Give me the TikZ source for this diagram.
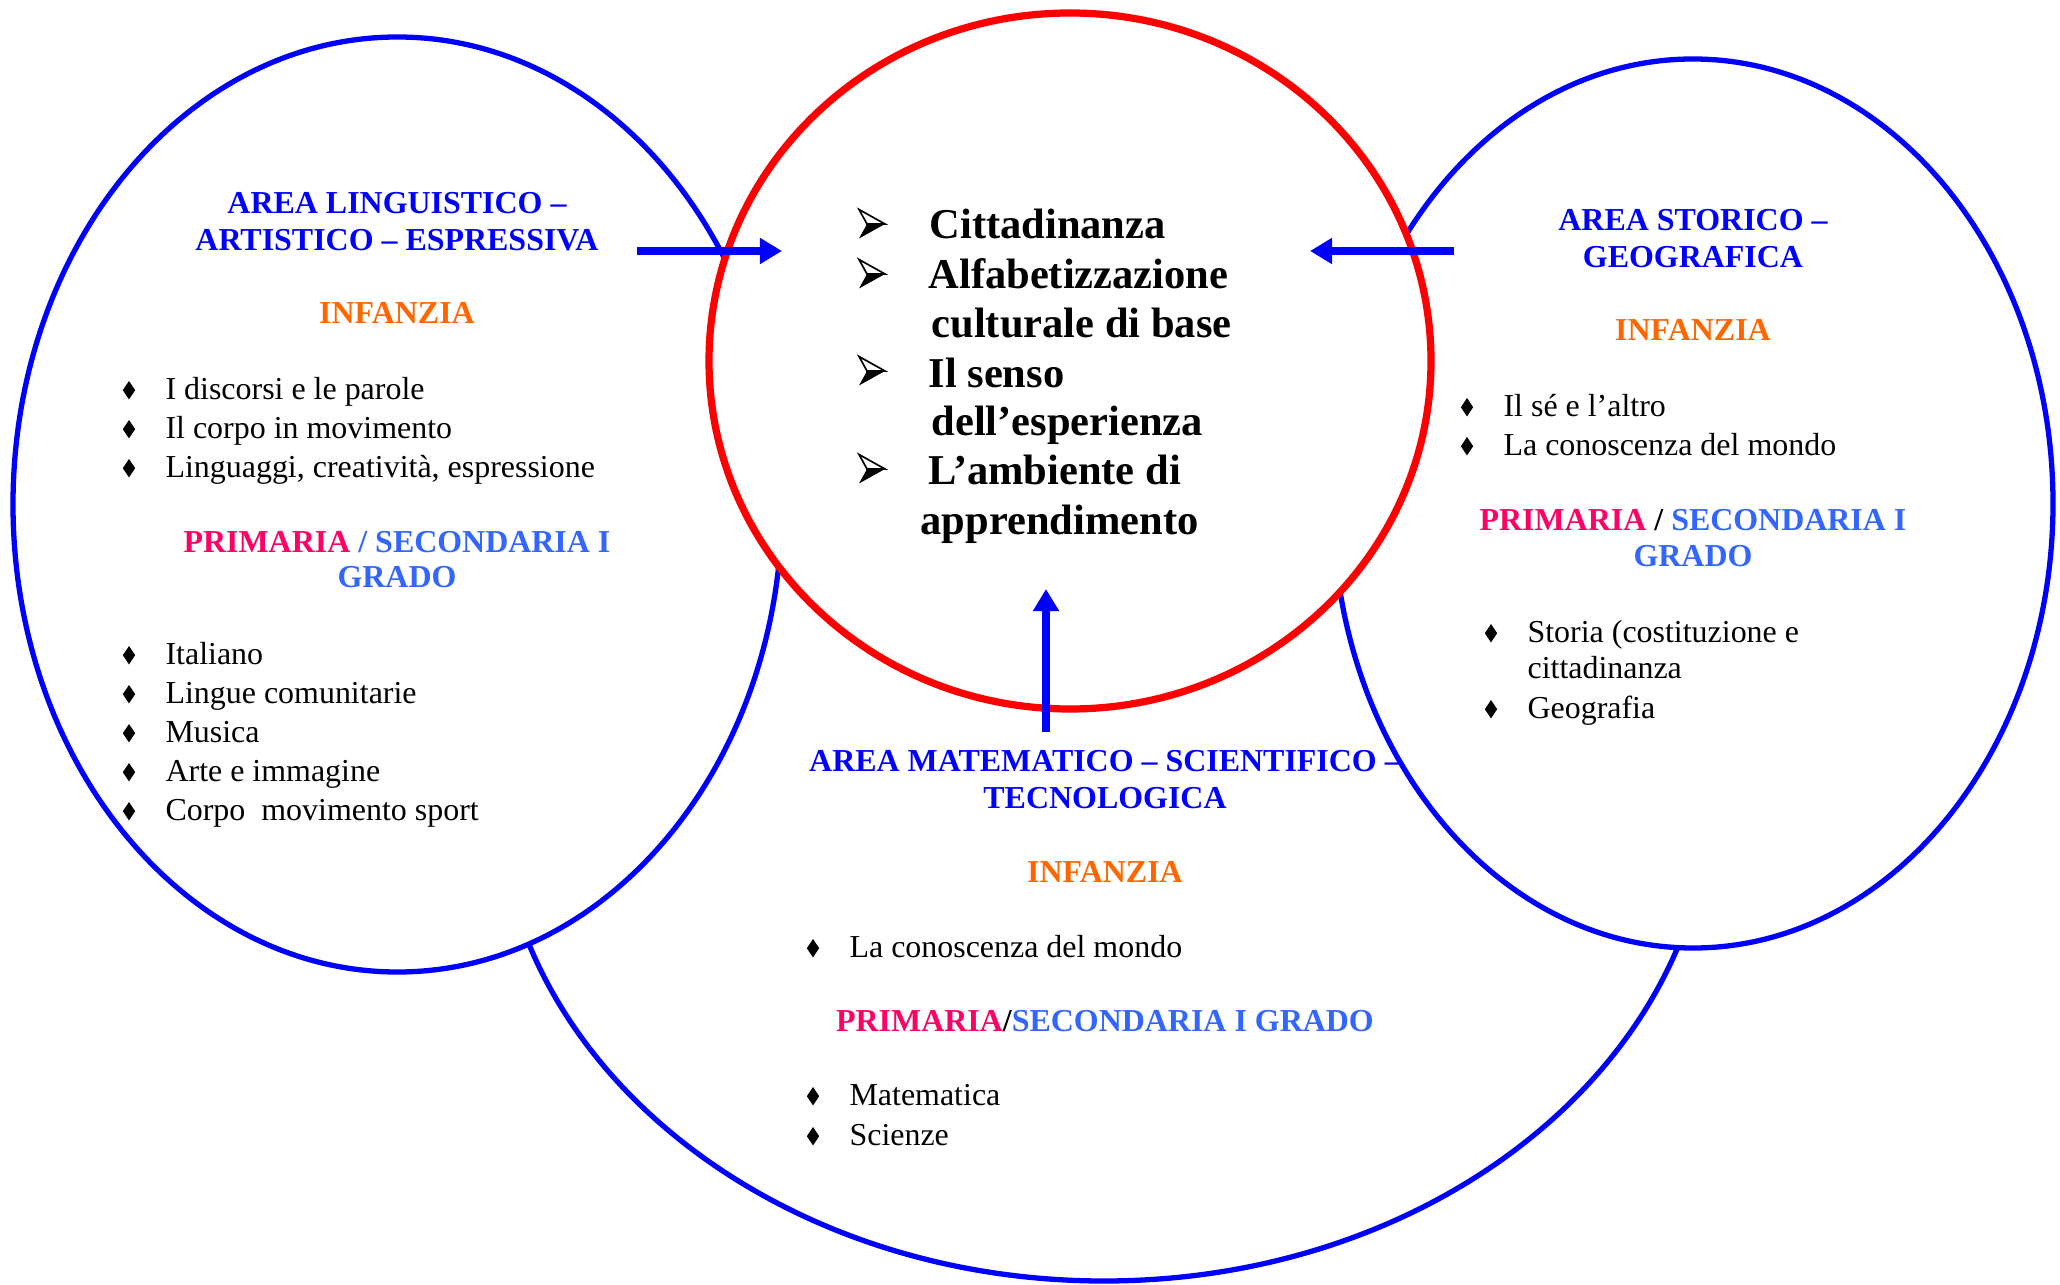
\documentclass[tikz,border=0pt]{standalone}
\usepackage{fontspec}
\setmainfont{Liberation Serif}
\usetikzlibrary{arrows.meta,shapes.geometric}

\definecolor{areablue}{RGB}{0,0,255}
\definecolor{infzorange}{RGB}{255,102,0}
\definecolor{primpink}{RGB}{255,0,102}
\definecolor{secblue}{RGB}{51,102,255}
\definecolor{corered}{RGB}{255,0,0}

\tikzset{
  ring/.style={draw=areablue, line width=1.9pt, fill=white},
  core/.style={draw=corered, line width=2.6pt, fill=white},
  head/.style={font=\fontsize{11.5}{13.4}\selectfont\bfseries, text=areablue, inner sep=0pt, anchor=base, yshift=-1pt},
  level/.style={font=\fontsize{11.5}{13.4}\selectfont\bfseries, inner sep=0pt, anchor=base, yshift=-1pt},
  item/.style={font=\fontsize{11.5}{14}\selectfont, inner sep=0pt, anchor=base west, yshift=-1pt},
  bul/.style={diamond, fill=black, inner sep=0pt, minimum width=4.6pt, minimum height=6.8pt, yshift=-0.8pt},
  key/.style={font=\fontsize{15.3}{17.7}\selectfont\bfseries, inner sep=0pt, anchor=base west, yshift=-0.8pt},
  arr/.style={draw=areablue, line width=2.9pt, -{Triangle[length=8pt,width=9pt]}},
  pics/arrbul/.style={code={
    \filldraw[line width=0.6pt, fill=white, line join=miter] (-13,-14.5) -- (13,0) -- (-5,0) -- cycle;
    \fill (-5,0) -- (13,0) -- (-13,14.5) -- cycle;
  }}
}

\begin{document}
\begin{tikzpicture}[x=0.36pt,y=-0.36pt]
  \fill[white] (0,0) rectangle (2060,1285);
  \useasboundingbox (0,0) rectangle (2060,1285);

  % areas, back to front
  \filldraw[ring] (1104,785) ellipse [x radius=607, y radius=496];
  \filldraw[ring] (397.5,504.5) ellipse [x radius=384.5, y radius=467.5];
  \filldraw[ring] (1693,503.5) ellipse [x radius=360, y radius=444.5];
  \filldraw[core] (1070,361) ellipse [x radius=361, y radius=348];

  % linguistico
  \node[head] (lh1) at (397,211) {AREA LINGUISTICO –};
  \node[head] (lh2) at (397,248) {ARTISTICO – ESPRESSIVA};
  \node[level, text=infzorange] (linf) at (397,321) {INFANZIA};
  \foreach \txt [count=\i] in {I discorsi e le parole, Il corpo in movimento, {Linguaggi, creatività, espressione}}
    {
      \pgfmathsetmacro{\yy}{388+39*(\i-1)}
      \node[bul] (lb\i) at (129,\yy) {};
      \node[item] (li\i) at (165,{\yy+9}) {\txt};
    }
  \node[level] (lpr1) at (397,550) {\color{primpink}PRIMARIA \color{secblue}/ SECONDARIA I};
  \node[level, text=secblue] (lpr2) at (397,585) {GRADO};
  \foreach \txt [count=\i] in {Italiano, Lingue comunitarie, Musica, Arte e immagine, Corpo\ \ movimento sport}
    {
      \pgfmathsetmacro{\yy}{653+39*(\i-1)}
      \node[bul] (lc\i) at (129,\yy) {};
      \node[item] (lj\i) at (165,{\yy+9}) {\txt};
    }

  % centre
  \node[key] (k1) at (929,236) {Cittadinanza};
  \node[key] (k2) at (928,286) {Alfabetizzazione};
  \node[key] (k2b) at (931,335) {culturale di base};
  \node[key] (k3) at (928,385) {Il senso};
  \node[key] (k3b) at (931,433) {dell’esperienza};
  \node[key] (k4) at (928,482) {L’ambiente di};
  \node[key] (k4b) at (920,532) {apprendimento};
  \foreach \yy in {224,274,371,469}
    \pic at (872,\yy) {arrbul};

  % storico
  \node[head] (rh1) at (1693,228) {AREA STORICO –};
  \node[head] (rh2) at (1693,265) {GEOGRAFICA};
  \node[level, text=infzorange] (rinf) at (1693,338) {INFANZIA};
  \node[bul] (rb1) at (1467,405) {};
  \node[item] (ri1) at (1503,414) {Il sé e l’altro};
  \node[bul] (rb2) at (1467,444) {};
  \node[item] (ri2) at (1503,453) {La conoscenza del mondo};
  \node[level] (rpr1) at (1693,528) {\color{primpink}PRIMARIA \color{black}/ \color{secblue}SECONDARIA I};
  \node[level, text=secblue] (rpr2) at (1693,564) {GRADO};
  \node[bul] (rc1) at (1491,631) {};
  \node[item] (rj1) at (1527,640) {Storia (costituzione e};
  \node[item] (rj1b) at (1527,676) {cittadinanza};
  \node[bul] (rc2) at (1491,707) {};
  \node[item] (rj2) at (1527,716) {Geografia};

  % matematico
  \node[head] (mh1) at (1105,769) {AREA MATEMATICO – SCIENTIFICO –};
  \node[head] (mh2) at (1105,806) {TECNOLOGICA};
  \node[level, text=infzorange] (minf) at (1105,880) {INFANZIA};
  \node[bul] (mb1) at (813,946) {};
  \node[item] (mi1) at (849,955) {La conoscenza del mondo};
  \node[level] (mpr) at (1105,1029) {\color{primpink}PRIMARIA\color{black}/\color{secblue}SECONDARIA I GRADO};
  \node[bul] (mc1) at (813,1094) {};
  \node[item] (mj1) at (849,1103) {Matematica};
  \node[bul] (mc2) at (813,1134) {};
  \node[item] (mj2) at (849,1143) {Scienze};

  % links into the centre
  \coordinate (ling-out) at (637,251);
  \coordinate (core-w) at (782,251);
  \coordinate (stor-out) at (1454,251);
  \coordinate (core-e) at (1310,251);
  \coordinate (mat-out) at (1046,732);
  \coordinate (core-s) at (1046,589);
  \draw[arr] (ling-out) -- (core-w);
  \draw[arr] (stor-out) -- (core-e);
  \draw[arr] (mat-out) -- (core-s);
\end{tikzpicture}
\end{document}
